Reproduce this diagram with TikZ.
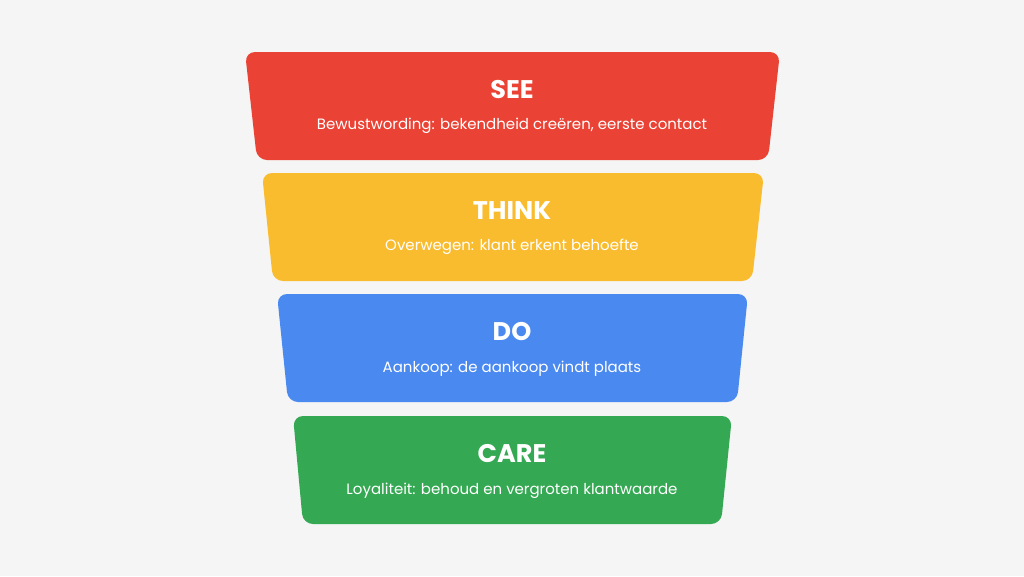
\documentclass[tikz,border=0pt]{standalone}
\usepackage{fontspec}
\setmainfont{Poppins}
\definecolor{bggray}{HTML}{F5F5F5}
\definecolor{seered}{HTML}{EA4335}
\definecolor{thinkyellow}{HTML}{F9BC2F}
\definecolor{doblue}{HTML}{4A89F0}
\definecolor{caregreen}{HTML}{35A853}
\tikzset{
  band/.style={rounded corners=10pt},
  title/.style={white, font=\fontsize{25.5}{28}\selectfont\bfseries},
  subtitle/.style={white, font=\fontsize{15}{18}\selectfont}
}
\begin{document}
\begin{tikzpicture}[x=1pt, y=-1pt]
    \fill[bggray] (0,0) rectangle (1024,576);
    % Bands
    \fill[band, seered] (245,52) -- (780,52) -- (768,160) -- (257,160) -- cycle;
    \fill[band, thinkyellow] (262,173) -- (764,173) -- (752,281) -- (273,281) -- cycle;
    \fill[band, doblue] (277,294) -- (748,294) -- (737,402) -- (288,402) -- cycle;
    \fill[band, caregreen] (293,416) -- (732,416) -- (721,524) -- (303,524) -- cycle;
    % Titles
    \node[title] (see) at (512,90) {SEE};
    \node[title] (think) at (512,211) {THINK};
    \node[title] (do) at (512,332) {DO};
    \node[title] (care) at (512,454) {CARE};
    % Descriptions
    \node[subtitle] (seetxt) at (512,126) {Bewustwording: bekendheid creëren, eerste contact};
    \node[subtitle] (thinktxt) at (512,247) {Overwegen: klant erkent behoefte};
    \node[subtitle] (dotxt) at (512,369) {Aankoop: de aankoop vindt plaats};
    \node[subtitle] (caretxt) at (512,491) {Loyaliteit: behoud en vergroten klantwaarde};
\end{tikzpicture}
\end{document}
